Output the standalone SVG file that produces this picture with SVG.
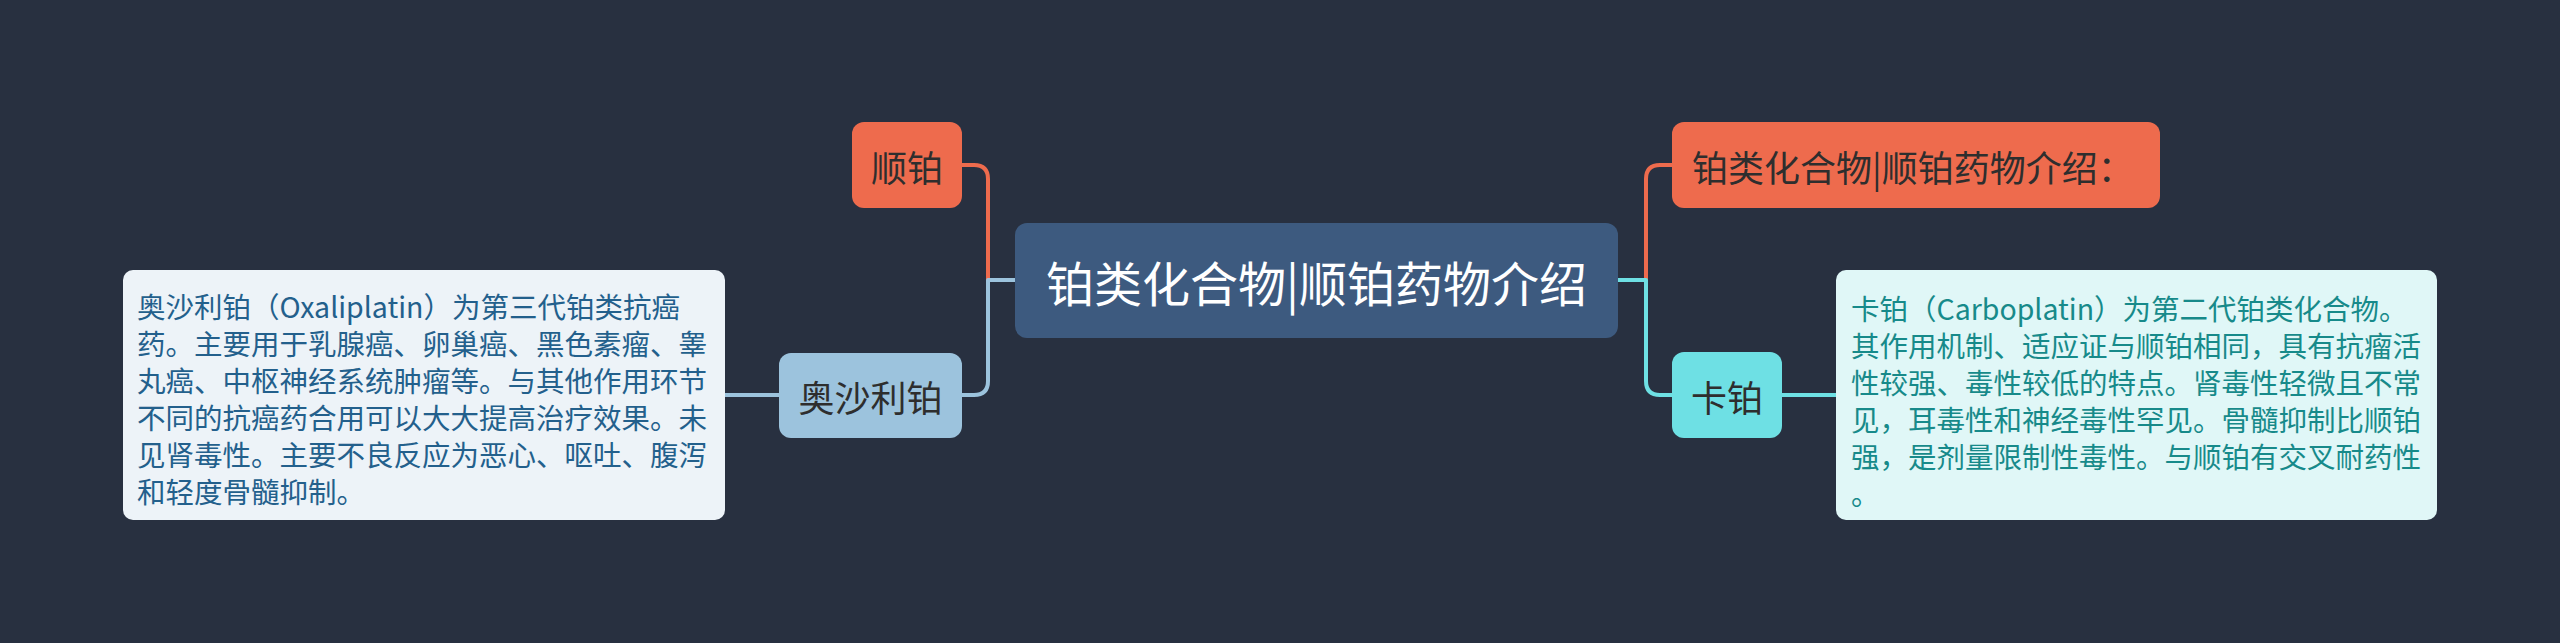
<svg xmlns="http://www.w3.org/2000/svg" width="2560" height="643" viewBox="0 0 2560 643">
<style>
.t{font-family:"Microsoft YaHei","Noto Sans CJK SC","Noto Sans",sans-serif;dominant-baseline:central}
.lbl{font-size:36px;fill:#2e2e2e;text-anchor:middle}
.desc{font-size:28.5px}
.c{fill:none;stroke-width:4;stroke-linejoin:round}
</style>
<rect width="2560" height="643" fill="#283040"/>
<g id="connectors">
<path class="c" stroke="#ee6b4d" d="M1015 280 H988 V179 Q988 165 974 165 H962"/>
<path class="c" stroke="#9cc3dd" d="M1015 280 H988 V381 Q988 395 974 395 H962"/>
<path class="c" stroke="#9cc3dd" d="M779 395 H725"/>
<path class="c" stroke="#ee6b4d" d="M1618 280 H1646 V179 Q1646 165 1660 165 H1672"/>
<path class="c" stroke="#6ee0e4" d="M1618 280 H1646 V381 Q1646 395 1660 395 H1672"/>
<path class="c" stroke="#6ee0e4" d="M1782 395 H1836"/>
</g>
<g id="root">
<rect x="1015" y="223" width="603" height="115" rx="12" fill="#3d5a7f"/>
<text class="t" x="1316.5" y="281" font-size="48" fill="#ffffff" text-anchor="middle">铂类化合物|顺铂药物介绍</text>
</g>
<g id="n-shunbo">
<rect x="852" y="122" width="110" height="86" rx="12" fill="#ee6b4d"/>
<text class="t lbl" x="907" y="166">顺铂</text>
</g>
<g id="n-aoshalibo">
<rect x="779" y="353" width="183" height="85" rx="12" fill="#9cc3dd"/>
<text class="t lbl" x="870.5" y="396">奥沙利铂</text>
</g>
<g id="n-aoshalibo-desc">
<rect x="123" y="270" width="602" height="250" rx="10" fill="#edf3f8"/>
<text class="t desc" fill="#23608c">
<tspan x="137" y="305">奥沙利铂（Oxaliplatin）为第三代铂类抗癌</tspan>
<tspan x="137" y="342">药。主要用于乳腺癌、卵巢癌、黑色素瘤、睾</tspan>
<tspan x="137" y="379">丸癌、中枢神经系统肿瘤等。与其他作用环节</tspan>
<tspan x="137" y="416">不同的抗癌药合用可以大大提高治疗效果。未</tspan>
<tspan x="137" y="453">见肾毒性。主要不良反应为恶心、呕吐、腹泻</tspan>
<tspan x="137" y="490">和轻度骨髓抑制。</tspan>
</text>
</g>
<g id="n-intro">
<rect x="1672" y="122" width="488" height="86" rx="12" fill="#ee6b4d"/>
<text class="t" x="1692" y="166" font-size="36" fill="#2e2e2e">铂类化合物|顺铂药物介绍：</text>
</g>
<g id="n-kabo">
<rect x="1672" y="352" width="110" height="86" rx="12" fill="#6ee0e4"/>
<text class="t lbl" x="1727" y="396">卡铂</text>
</g>
<g id="n-kabo-desc">
<rect x="1836" y="270" width="601" height="250" rx="10" fill="#e0f7f7"/>
<text class="t desc" fill="#178a8a">
<tspan x="1851" y="307">卡铂（Carboplatin）为第二代铂类化合物。</tspan>
<tspan x="1851" y="344">其作用机制、适应证与顺铂相同，具有抗瘤活</tspan>
<tspan x="1851" y="381">性较强、毒性较低的特点。肾毒性轻微且不常</tspan>
<tspan x="1851" y="418">见，耳毒性和神经毒性罕见。骨髓抑制比顺铂</tspan>
<tspan x="1851" y="455">强，是剂量限制性毒性。与顺铂有交叉耐药性</tspan>
<tspan x="1851" y="492">。</tspan>
</text>
</g>
</svg>
